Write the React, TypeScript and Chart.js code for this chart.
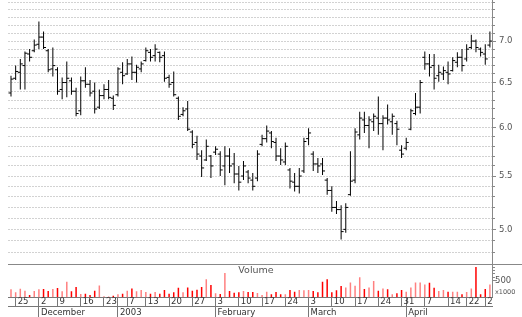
import React, { useEffect, useRef } from 'react';
import { Chart, registerables } from 'chart.js';

Chart.register(...registerables);

const highs = [
  6.58, 6.70, 6.78, 6.87, 6.90, 7.02, 7.25, 7.12, 6.90, 6.92,
  6.68, 6.56, 6.75, 6.56, 6.44, 6.57, 6.68, 6.53, 6.50, 6.42,
  6.48, 6.53, 6.35, 6.68, 6.74, 6.78, 6.81, 6.71, 6.75, 6.92,
  6.90, 6.96, 6.87, 6.87, 6.59, 6.63, 6.34, 6.22, 6.29, 5.97,
  5.91, 5.76, 5.87, 5.71, 5.80, 5.75, 5.80, 5.78, 5.73, 5.60,
  5.65, 5.56, 5.53, 5.76, 5.92, 6.02, 5.96, 5.89, 5.78, 5.84,
  5.58, 5.53, 5.58, 5.89, 5.99, 5.75, 5.68, 5.68, 5.48, 5.40,
  5.26, 5.22, 5.24, 5.75, 5.99, 6.17, 6.17, 6.12, 6.15, 6.34,
  6.13, 6.25, 6.15, 6.07, 5.81, 5.89, 6.20, 6.38, 6.53, 6.87,
  6.84, 6.84, 6.71, 6.69, 6.75, 6.80, 6.86, 6.90, 6.96, 7.08,
  7.02, 6.92, 6.96, 7.12,
];
const lows = [
  6.34, 6.53, 6.42, 6.42, 6.75, 6.86, 6.90, 6.90, 6.62, 6.57,
  6.36, 6.31, 6.33, 6.36, 6.12, 6.13, 6.44, 6.34, 6.15, 6.20,
  6.31, 6.31, 6.19, 6.34, 6.48, 6.59, 6.53, 6.50, 6.62, 6.75,
  6.75, 6.75, 6.74, 6.51, 6.44, 6.34, 6.08, 6.12, 5.96, 5.78,
  5.66, 5.49, 5.65, 5.48, 5.71, 5.50, 5.41, 5.53, 5.43, 5.36,
  5.46, 5.43, 5.36, 5.45, 5.80, 5.84, 5.78, 5.65, 5.61, 5.61,
  5.38, 5.35, 5.33, 5.53, 5.81, 5.55, 5.53, 5.51, 5.32, 5.16,
  5.14, 4.91, 4.97, 5.31, 5.43, 5.87, 5.94, 5.78, 5.96, 5.92,
  5.76, 6.03, 5.92, 5.81, 5.68, 5.76, 5.97, 6.13, 6.15, 6.65,
  6.57, 6.42, 6.51, 6.53, 6.48, 6.63, 6.68, 6.63, 6.75, 6.90,
  6.86, 6.81, 6.71, 6.92,
];
const opens = [
  6.38, 6.55, 6.62, 6.70, 6.84, 6.88, 6.96, 7.05, 6.88, 6.66,
  6.65, 6.42, 6.50, 6.52, 6.40, 6.18, 6.52, 6.48, 6.40, 6.22,
  6.35, 6.42, 6.32, 6.36, 6.62, 6.60, 6.72, 6.62, 6.66, 6.76,
  6.86, 6.82, 6.86, 6.82, 6.56, 6.50, 6.32, 6.14, 6.20, 5.95,
  5.84, 5.70, 5.66, 5.70, 5.74, 5.72, 5.60, 5.70, 5.62, 5.52,
  5.50, 5.54, 5.46, 5.48, 5.82, 5.88, 5.94, 5.84, 5.70, 5.64,
  5.56, 5.44, 5.40, 5.55, 5.88, 5.72, 5.62, 5.62, 5.46, 5.36,
  5.20, 5.18, 5.00, 5.32, 5.46, 5.92, 6.08, 6.02, 6.06, 6.10,
  6.04, 6.10, 6.06, 6.04, 5.76, 5.78, 5.98, 6.15, 6.22, 6.80,
  6.72, 6.70, 6.58, 6.60, 6.62, 6.64, 6.74, 6.80, 6.78, 6.92,
  7.00, 6.90, 6.84, 6.95,
];
const closes = [
  6.54, 6.63, 6.72, 6.85, 6.80, 6.95, 7.05, 6.92, 6.65, 6.70,
  6.40, 6.50, 6.55, 6.40, 6.15, 6.52, 6.48, 6.38, 6.20, 6.35,
  6.42, 6.33, 6.24, 6.66, 6.58, 6.72, 6.62, 6.68, 6.72, 6.88,
  6.80, 6.90, 6.80, 6.55, 6.48, 6.36, 6.12, 6.18, 5.98, 5.82,
  5.72, 5.58, 5.80, 5.60, 5.77, 5.56, 5.70, 5.60, 5.52, 5.44,
  5.60, 5.48, 5.40, 5.72, 5.88, 5.96, 5.85, 5.70, 5.66, 5.80,
  5.45, 5.40, 5.50, 5.85, 5.94, 5.62, 5.60, 5.55, 5.36, 5.20,
  5.18, 4.98, 5.20, 5.45, 5.95, 6.10, 6.02, 6.08, 6.12, 6.04,
  6.10, 6.08, 6.12, 5.98, 5.72, 5.84, 6.18, 6.22, 6.50, 6.72,
  6.68, 6.55, 6.62, 6.64, 6.60, 6.76, 6.80, 6.70, 6.90, 7.00,
  6.92, 6.86, 6.78, 7.00,
];
// volume in thousands
const volumes = [
  238, 149, 256, 196, 68, 187, 238, 247, 187, 247,
  277, 178, 464, 178, 306, 98, 110, 68, 196, 357,
  30, 20, 50, 89, 110, 196, 268, 178, 218, 159,
  110, 159, 110, 218, 110, 149, 287, 149, 297, 196,
  228, 306, 545, 367, 119, 99, 732, 187, 139, 149,
  187, 159, 159, 129, 69, 168, 89, 159, 89, 89,
  218, 168, 218, 208, 218, 187, 149, 464, 545, 149,
  208, 337, 297, 446, 347, 605, 248, 297, 486, 196,
  268, 238, 89, 119, 218, 168, 297, 446, 446, 387,
  436, 287, 187, 218, 168, 168, 168, 89, 159, 268,
  911, 89, 248, 387,
];

const dayTickIdx = [1, 6, 10, 15, 20, 23, 25, 29, 34, 39, 44, 49, 54, 59, 64, 69, 74, 79, 84, 85, 89, 94, 98, 102];
const dayTickLabels = ['25', '2', '9', '16', '23', '', '7', '13', '20', '27', '3', '10', '17', '24', '3', '10', '17', '24', '31', '', '7', '14', '22', '2'];
const monthTickIdx = [6, 23, 44, 64, 85];
const monthLabels = ['December', '2003', 'February', 'March', 'April'];
const priceLabelValues = [5.0, 5.5, 6.0, 6.5, 7.0];
const volumeTickValues = [137, 500, 600, 700, 800, 900, 1000];

const FONT = 'DejaVu Sans';

const volumeLabelPlugin = {
  id: 'volumeLabel',
  afterDraw(chart: any) {
    const { ctx, chartArea, scales } = chart;
    const yv = scales.yv;
    ctx.save();
    ctx.font = `9.5px "${FONT}"`;
    ctx.fillStyle = '#555';
    ctx.textAlign = 'center';
    ctx.textBaseline = 'middle';
    ctx.fillText('Volume', (chartArea.left + chartArea.right) / 2 + 6, yv.top + 7);
    ctx.restore();
  },
};

const zeroPad = (s: any) => {
  s.paddingTop = 0;
  s.paddingBottom = 0;
  s.paddingLeft = 0;
  s.paddingRight = 0;
};

export default function App() {
  const ref = useRef<HTMLCanvasElement>(null);

  useEffect(() => {
    const canvas = ref.current;
    if (!canvas) return;
    Chart.defaults.font.family = FONT;

    const priceGrid: number[] = [];
    for (let k = 48; k <= 75; k++) priceGrid.push(k / 10);
    const isPriceLabel = (v: number) => priceLabelValues.some((p) => Math.abs(p - v) < 1e-6);

    const volColors = closes.map((c, i) => (c >= (i > 0 ? closes[i - 1] : opens[i]) ? '#ff8080' : '#ff0000'));

    const xMin = -0.645;
    const xMax = 103.45;

    const chart = new Chart(canvas, {
      type: 'bar',
      data: {
        datasets: [
          {
            type: 'bar',
            label: 'range',
            data: highs.map((h, i) => ({ x: i, y: [lows[i], h] })) as any,
            backgroundColor: '#000',
            borderWidth: 0,
            grouped: false,
            maxBarThickness: 1,
            xAxisID: 'x',
            yAxisID: 'y',
          } as any,
          {
            type: 'scatter',
            label: 'open',
            data: opens.map((o, i) => ({ x: i, y: o })),
            pointStyle: 'dash',
            pointRotation: 180,
            pointRadius: 2.5,
            pointBorderWidth: 1,
            pointBorderColor: '#000',
            pointBackgroundColor: '#000',
            xAxisID: 'x',
            yAxisID: 'y',
          } as any,
          {
            type: 'scatter',
            label: 'close',
            data: closes.map((c, i) => ({ x: i, y: c })),
            pointStyle: 'dash',
            pointRotation: 0,
            pointRadius: 2.5,
            pointBorderWidth: 1,
            pointBorderColor: '#000',
            pointBackgroundColor: '#000',
            xAxisID: 'x',
            yAxisID: 'y',
          } as any,
          {
            type: 'bar',
            label: 'Volume',
            data: volumes.map((v, i) => ({ x: i, y: v })),
            backgroundColor: volColors,
            borderWidth: 0,
            grouped: false,
            maxBarThickness: 1.5,
            xAxisID: 'x',
            yAxisID: 'yv',
          } as any,
        ],
      },
      options: {
        responsive: false,
        animation: false,
        devicePixelRatio: 1,
        events: [],
        layout: { autoPadding: false, padding: { left: 8, top: 0, right: 0, bottom: 0 } },
        plugins: { legend: { display: false }, tooltip: { enabled: false }, title: { display: false } },
        scales: {
          y: {
            type: 'logarithmic',
            position: 'right',
            stack: 'panels',
            stackWeight: 264,
            min: 4.724,
            max: 7.533,
            afterBuildTicks: (s: any) => {
              s.ticks = priceGrid.map((v) => ({ value: v }));
            },
            afterFit: (s: any) => {
              s.width = 30;
              zeroPad(s);
            },
            ticks: {
              autoSkip: false,
              padding: 3,
              color: '#555',
              font: { family: FONT, size: 8.5 },
              callback: (v: any) => (isPriceLabel(Number(v)) ? Number(v).toFixed(1) : ''),
            },
            grid: {
              color: '#d2d2d2',
              offset: false,
              tickLength: 4,
              tickColor: '#888',
              tickBorderDash: (ctx: any) => (ctx.tick && isPriceLabel(ctx.tick.value) ? [] : [2, 10]),
            },
            border: { color: '#888', dash: [2, 1] },
          } as any,
          yv: {
            type: 'linear',
            position: 'right',
            stack: 'panels',
            stackWeight: 33.3,
            min: 0,
            max: 1000,
            afterBuildTicks: (s: any) => {
              s.ticks = volumeTickValues.map((v) => ({ value: v }));
            },
            afterFit: (s: any) => {
              s.width = 30;
              zeroPad(s);
            },
            ticks: {
              autoSkip: false,
              padding: -27,
              color: '#555',
              font: (ctx: any) => (ctx.tick && ctx.tick.value === 137 ? { family: FONT, size: 6.5 } : { family: FONT, size: 8.5 }),
              callback: (v: any) => (v === 500 ? '500' : v === 137 ? 'x1000' : ''),
            },
            grid: {
              offset: false,
              color: (ctx: any) => (ctx.tick && ctx.tick.value === 1000 ? '#888' : 'rgba(0,0,0,0)'),
              tickLength: 30,
              tickColor: (ctx: any) => (ctx.tick && ctx.tick.value === 137 ? 'rgba(0,0,0,0)' : '#888'),
              tickBorderDash: (ctx: any) => {
                const v = ctx.tick ? ctx.tick.value : 0;
                if (v === 1000) return [];
                if (v === 500) return [4, 100];
                return [2, 100];
              },
            },
            border: { color: '#888', dash: [] },
          } as any,
          x: {
            type: 'linear',
            position: 'bottom',
            weight: 0,
            min: xMin,
            max: xMax,
            offset: false,
            afterBuildTicks: (s: any) => {
              s.ticks = dayTickIdx.map((v) => ({ value: v }));
            },
            afterFit: (s: any) => {
              s.height = 9.2;
              zeroPad(s);
            },
            ticks: {
              autoSkip: false,
              maxRotation: 0,
              minRotation: 0,
              align: 'start',
              labelOffset: 2,
              padding: -9.5,
              color: '#333',
              font: { family: FONT, size: 8.5 },
              callback: (_v: any, i: number) => dayTickLabels[i],
            },
            grid: { offset: false, drawOnChartArea: false, tickLength: 9.2, tickColor: '#777', color: '#777' },
            border: { color: '#777' },
          } as any,
          x2: {
            type: 'linear',
            position: 'bottom',
            weight: 1,
            min: xMin,
            max: xMax,
            offset: false,
            afterBuildTicks: (s: any) => {
              s.ticks = monthTickIdx.map((v) => ({ value: v }));
            },
            afterFit: (s: any) => {
              s.height = 10.5;
              zeroPad(s);
            },
            ticks: {
              autoSkip: false,
              maxRotation: 0,
              minRotation: 0,
              align: 'start',
              labelOffset: 2,
              padding: -9,
              color: '#333',
              font: { family: FONT, size: 8.5 },
              callback: (_v: any, i: number) => monthLabels[i],
            },
            grid: { offset: false, drawOnChartArea: false, tickLength: 10.5, tickColor: '#777', color: '#777' },
            border: { color: '#777' },
          } as any,
        },
      } as any,
      plugins: [volumeLabelPlugin],
    });

    return () => chart.destroy();
  }, []);

  return (
    <div style={{ position: 'absolute', left: 0, top: 0, width: 522, height: 317, background: '#fff' }}>
      <canvas ref={ref} width={522} height={317} />
    </div>
  );
}
